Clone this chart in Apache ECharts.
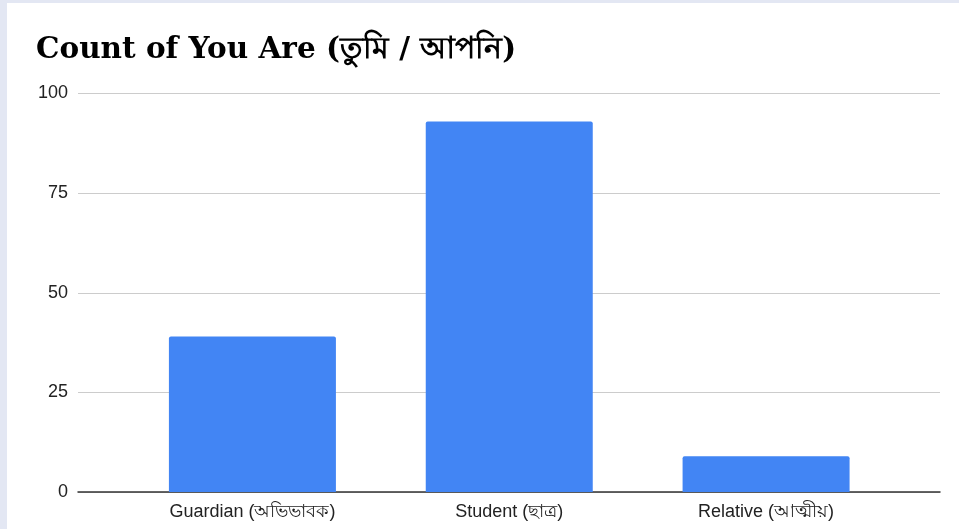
<!DOCTYPE html>
<html>
<head>
<meta charset="utf-8">
<title>Count of You Are</title>
<script src="https://cdn.jsdelivr.net/npm/echarts@6/dist/echarts.min.js"></script>
<style>
    html, body { margin: 0; padding: 0; background: #e3e7f3; }
    #chart { position: absolute; left: 7px; top: 3px; width: 952px; height: 526px; background: #fff; }
</style>
</head>
<body>
<div id="chart"></div>
<script>
// data
var categories = ['Guardian (অভিভাবক)', 'Student (ছাত্র)', 'Relative (আত্মীয়)'];
var counts = [39, 93, 9];
var yTicks = [0, 25, 50, 75, 100];

var chart = echarts.init(document.getElementById('chart'));
chart.setOption({
    animation: false,
    title: {
        text: 'Count of You Are (তুমি / আপনি)',
        left: 24,
        top: 27,
        textStyle: {
            fontFamily: 'DejaVu Serif',
            fontWeight: 'bold',
            fontSize: 29.5,
            color: '#000'
        }
    },
    grid: [
        // full-width frame: gridlines, y labels, baseline
        {left: 71, right: 19, top: 90.5, bottom: 37},
        // bars live in the narrower inner area
        {left: 117, right: 64.5, top: 90.5, bottom: 37}
    ],
    xAxis: [
        {
            gridIndex: 0,
            type: 'category',
            data: [''],
            axisTick: {show: false},
            axisLabel: {show: false},
            axisLine: {lineStyle: {color: '#333', width: 1.5}}
        },
        {
            gridIndex: 1,
            type: 'category',
            data: categories,
            axisTick: {show: false},
            axisLine: {show: false},
            axisLabel: {
                margin: 11,
                fontFamily: 'Arial, Liberation Sans, sans-serif',
                fontSize: 18,
                color: '#222'
            }
        }
    ],
    yAxis: [
        {
            gridIndex: 0,
            type: 'value',
            min: yTicks[0],
            max: yTicks[yTicks.length - 1],
            interval: yTicks[1] - yTicks[0],
            axisLine: {show: false},
            axisTick: {show: false},
            axisLabel: {
                margin: 10,
                fontFamily: 'Arial, Liberation Sans, sans-serif',
                fontSize: 18,
                color: '#222'
            },
            splitLine: {lineStyle: {color: '#cccccc', width: 1}}
        },
        {
            gridIndex: 1,
            type: 'value',
            min: yTicks[0],
            max: yTicks[yTicks.length - 1],
            show: false,
            splitLine: {show: false}
        }
    ],
    series: [
        {
            name: 'Count of You Are',
            type: 'bar',
            xAxisIndex: 1,
            yAxisIndex: 1,
            barWidth: 167,
            data: counts,
            itemStyle: {
                color: '#4285f4',
                borderRadius: [2, 2, 0, 0]
            }
        }
    ]
});
</script>
</body>
</html>
